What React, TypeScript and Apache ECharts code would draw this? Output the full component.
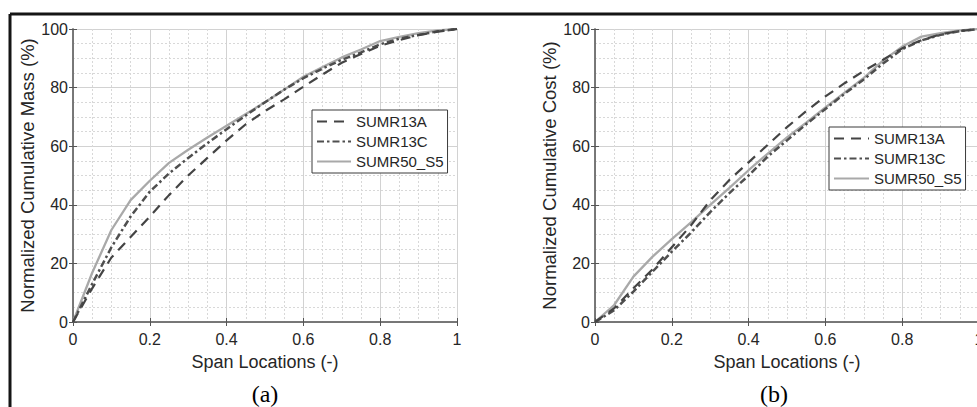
import { useEffect, useRef } from "react";
import * as echarts from "echarts";

const spanLocations = [0, 0.05, 0.1, 0.15, 0.2, 0.25, 0.3, 0.35, 0.4, 0.45, 0.5, 0.55, 0.6, 0.65, 0.7, 0.75, 0.8, 0.85, 0.9, 0.95, 1];

const massSUMR13A = [0, 11.5, 22, 29, 36, 43.3, 50, 56, 62, 67.5, 72, 76, 80.3, 84.5, 88.5, 91.5, 94.3, 96.2, 97.9, 99.1, 100];
const massSUMR13C = [0, 13, 25.5, 36, 44.5, 50.7, 56, 61, 65.8, 70.5, 75, 79.3, 83.2, 86.5, 89.5, 92, 94.8, 96.7, 98, 99.2, 100];
const massSUMR50S5 = [0, 16.8, 31.4, 41.6, 48.2, 54.3, 58.8, 63, 67, 71, 75, 79.3, 83.7, 87, 90.3, 93, 95.9, 97.3, 98.6, 99.5, 100];

const costSUMR13A = [0, 4.7, 11.5, 18, 25.5, 33, 41.5, 48.5, 54.5, 60.5, 66.5, 72, 77, 81.5, 85.7, 89.5, 93.4, 96.2, 98.2, 99.3, 100];
const costSUMR13C = [0, 4, 10.4, 17.2, 24, 30.5, 37.5, 44, 50, 56.5, 62, 67.5, 72.7, 77.9, 82.8, 88.2, 93.1, 96.1, 98, 99.3, 100];
const costSUMR50S5 = [0, 5.8, 15.5, 22.3, 28.3, 34, 40, 45.8, 51.8, 57.5, 63, 68, 73.2, 78.3, 83.3, 89.2, 94, 97.4, 98.6, 99.5, 100];

const seriesNames = ["SUMR13A", "SUMR13C", "SUMR50_S5"];
const panelLabels = ["(a)", "(b)"];
const yAxisTitles = ["Normalized Cumulative Mass (%)", "Normalized Cumulative Cost (%)"];
const xAxisTitle = "Span Locations (-)";

const lineStyles: Record<string, any> = {
  SUMR13A: { color: "#444444", width: 2.2, type: [10, 7] },
  SUMR13C: { color: "#4f4f4f", width: 2.5, type: [7, 3, 2.5, 3] },
  SUMR50_S5: { color: "#a9a9a9", width: 2.3, type: "solid" },
};

const SANS = "'Liberation Sans', Arial, sans-serif";

function pairs(xs: number[], ys: number[]) {
  return xs.map((x, i) => [x, ys[i]]);
}

const axisLineStyle = { show: true, lineStyle: { color: "#707070", width: 1.5 } };
const tickStyle = { show: true, inside: true, length: 4, lineStyle: { color: "#555", width: 1 } };
const majorGrid = { show: true, lineStyle: { color: "#d2d2d2", width: 1 } };
const minorGrid = { show: true, lineStyle: { color: "#d8d8d8", width: 1, type: [2, 2] } };

function mainX(gridIndex: number) {
  return {
    type: "value", gridIndex, position: "bottom", min: 0, max: 1, interval: 0.2,
    axisLine: axisLineStyle, axisTick: tickStyle,
    minorTick: { show: false, splitNumber: 4 },
    splitLine: majorGrid,
    minorSplitLine: minorGrid,
    axisLabel: { color: "#262626", fontSize: 16, fontFamily: SANS, margin: 9 },
    name: xAxisTitle, nameLocation: "middle", nameGap: 31,
    nameTextStyle: { color: "#262626", fontSize: 18, fontFamily: SANS },
  };
}
function topX(gridIndex: number) {
  return {
    type: "value", gridIndex, position: "top", min: 0, max: 1, interval: 0.2,
    axisLine: axisLineStyle, axisTick: tickStyle, axisLabel: { show: false }, splitLine: { show: false },
  };
}
function mainY(gridIndex: number, title: string, gap: number) {
  return {
    type: "value", gridIndex, position: "left", min: 0, max: 100, interval: 20,
    axisLine: axisLineStyle, axisTick: tickStyle,
    minorTick: { show: false, splitNumber: 4 },
    splitLine: majorGrid,
    minorSplitLine: minorGrid,
    axisLabel: { color: "#262626", fontSize: 16, fontFamily: SANS, margin: 5 },
    name: title, nameLocation: "middle", nameGap: gap, nameRotate: 90,
    nameTextStyle: { color: "#262626", fontSize: 18.5, fontFamily: SANS },
  };
}
function rightY(gridIndex: number) {
  return {
    type: "value", gridIndex, position: "right", min: 0, max: 100, interval: 20,
    axisLine: axisLineStyle, axisTick: tickStyle, axisLabel: { show: false }, splitLine: { show: false },
  };
}

function makeSeries(name: string, data: number[], xi: number, yi: number) {
  return {
    type: "line", name, xAxisIndex: xi, yAxisIndex: yi,
    data: pairs(spanLocations, data), symbol: "none", showSymbol: false,
    lineStyle: lineStyles[name], itemStyle: { color: lineStyles[name].color },
    z: name === "SUMR50_S5" ? 2 : 3,
  };
}

function legendAt(left: number, top: number, itemWidth: number) {
  return {
    left, top, orient: "vertical", itemWidth, itemHeight: 14, itemGap: 5,
    padding: [4, 4, 4, 4], borderColor: "#3a3a3a", borderWidth: 1, backgroundColor: "#fff",
    selectedMode: false,
    itemStyle: { opacity: 0, color: "transparent", borderWidth: 0 },
    data: seriesNames,
    textStyle: { fontSize: 15, color: "#262626", fontFamily: SANS },
  };
}

export default function App() {
  const ref = useRef<HTMLDivElement>(null);
  useEffect(() => {
    if (!ref.current) return;
    const chart = echarts.init(ref.current, undefined, { renderer: "svg" });
    chart.setOption({
      animation: false,
      backgroundColor: "#ffffff",
      grid: [
        { left: 73, top: 29, width: 384, height: 293, outerBoundsMode: "none", containLabel: false },
        { left: 595, top: 29, width: 384, height: 293, outerBoundsMode: "none", containLabel: false },
      ],
      xAxis: [mainX(0), topX(0), mainX(1), topX(1)],
      yAxis: [mainY(0, yAxisTitles[0], 36), rightY(0), mainY(1, yAxisTitles[1], 35), rightY(1)],
      legend: [legendAt(312, 110, 34), legendAt(829, 127, 35)],
      series: [
        makeSeries("SUMR50_S5", massSUMR50S5, 0, 0),
        makeSeries("SUMR13C", massSUMR13C, 0, 0),
        makeSeries("SUMR13A", massSUMR13A, 0, 0),
        makeSeries("SUMR50_S5", costSUMR50S5, 2, 2),
        makeSeries("SUMR13C", costSUMR13C, 2, 2),
        makeSeries("SUMR13A", costSUMR13A, 2, 2),
      ],
      graphic: [
        { type: "line", shape: { x1: 10, y1: 14, x2: 977, y2: 14 }, style: { stroke: "#151515", lineWidth: 3 } },
        { type: "line", shape: { x1: 10, y1: 14, x2: 10, y2: 407 }, style: { stroke: "#151515", lineWidth: 3 } },
        {
          type: "text", x: 265, y: 394,
          style: { text: panelLabels[0], fill: "#000", font: "24px 'Liberation Serif', 'Times New Roman', serif", textAlign: "center", textVerticalAlign: "middle" },
        },
        {
          type: "text", x: 774, y: 394,
          style: { text: panelLabels[1], fill: "#000", font: "24px 'Liberation Serif', 'Times New Roman', serif", textAlign: "center", textVerticalAlign: "middle" },
        },
      ],
    });
    return () => chart.dispose();
  }, []);
  return <div ref={ref} style={{ position: "fixed", left: 0, top: 0, width: 977, height: 407 }} />;
}
